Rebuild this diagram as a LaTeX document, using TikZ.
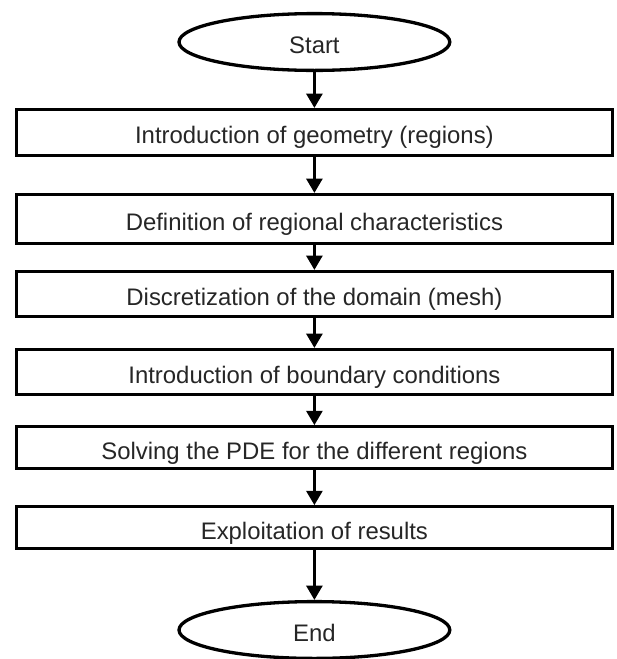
\documentclass[tikz,border=0pt]{standalone}
\usepackage{fontspec}
\setmainfont{Liberation Sans}
\usepackage{xcolor}
\usetikzlibrary{arrows.meta,positioning,shapes.geometric}
\definecolor{ink}{HTML}{262626}
\tikzset{
    every picture/.style={line join=miter},
    stepbox/.style={draw=black,line width=2.35pt,minimum width=14.9cm,
      inner sep=2pt,text=ink,text height=16.4pt,text depth=0pt,align=center},
    termnode/.style={draw=black,ellipse,line width=2.35pt,minimum width=6.77cm,
      minimum height=1.42cm,inner sep=0pt,text=ink,text height=16.4pt,text depth=0pt},
    flowarrow/.style={-{Triangle[length=3.6mm,width=4mm]},draw=black,
      line width=2.1pt}
}

\begin{document}
\begin{tikzpicture}[font=\fontsize{17}{20}\selectfont]
  \useasboundingbox (0,0) rectangle (15.4,-16.475);

  \node[termnode] (start) at (7.86,-1.05) {Start};

  \node[stepbox,minimum height=1.14cm] (st1) at (7.86,-3.31) {Introduction of geometry (regions)};
  \node[stepbox,minimum height=1.22cm] (st2) at (7.86,-5.475) {Definition of regional characteristics};
  \node[stepbox,minimum height=1.12cm] (st3) at (7.86,-7.35) {Discretization of the domain (mesh)};
  \node[stepbox,minimum height=1.12cm] (st4) at (7.86,-9.3) {Introduction of boundary conditions};
  \node[stepbox,minimum height=1.04cm] (st5) at (7.86,-11.19) {Solving the PDE for the different regions};
  \node[stepbox,minimum height=1.04cm] (st6) at (7.86,-13.19) {Exploitation of results};

  \node[termnode] (stop) at (7.86,-15.75) {End};

  \foreach \a/\b in {start/st1,st1/st2,st2/st3,st3/st4,st4/st5,st5/st6,st6/stop}
    \draw[flowarrow] (\a) -- (\b);
\end{tikzpicture}
\end{document}
